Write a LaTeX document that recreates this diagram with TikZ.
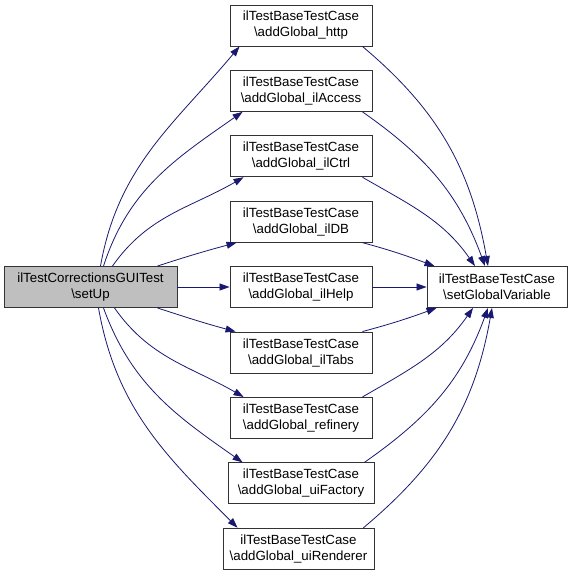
\documentclass[tikz,border=0pt]{standalone}
\usepackage{fontspec}
\setmainfont{Liberation Sans}
\usepackage{tikz}
\usetikzlibrary{arrows.meta, positioning}
\definecolor{callblue}{RGB}{25,25,112}
\definecolor{curgray}{RGB}{191,191,191}

\begin{document}
\begin{tikzpicture}[x=1pt, y=1pt,
    fn/.style={draw=black!80, line width=0.9pt, align=center, inner sep=0pt,
      minimum width=142pt, minimum height=41pt, font=\fontsize{13.3}{16}\selectfont},
    cur/.style={fn, fill=curgray, minimum width=173pt},
    call/.style={callblue, line width=0.8pt, -{Triangle[length=10pt,width=7pt]}}]
  \useasboundingbox (0,0) rectangle (573,-575);
  % Caller
  \node[cur] (setup) at (90.5,-287) {ilTestCorrectionsGUITest\\\textbackslash setUp};
  % Callees
  \node[fn] (http)     at (301,-25.5)  {ilTestBaseTestCase\\\textbackslash addGlobal\_http};
  \node[fn] (access)   at (301,-90.9)  {ilTestBaseTestCase\\\textbackslash addGlobal\_ilAccess};
  \node[fn] (ctrl)     at (301,-156.3) {ilTestBaseTestCase\\\textbackslash addGlobal\_ilCtrl};
  \node[fn] (db)       at (301,-221.7) {ilTestBaseTestCase\\\textbackslash addGlobal\_ilDB};
  \node[fn] (help)     at (301,-287)   {ilTestBaseTestCase\\\textbackslash addGlobal\_ilHelp};
  \node[fn] (tabs)     at (301,-352.5) {ilTestBaseTestCase\\\textbackslash addGlobal\_ilTabs};
  \node[fn] (refinery) at (301,-417.9) {ilTestBaseTestCase\\\textbackslash addGlobal\_refinery};
  \node[fn, minimum width=146pt] (factory)  at (301,-483.3) {ilTestBaseTestCase\\\textbackslash addGlobal\_uiFactory};
  \node[fn, minimum width=151pt] (renderer) at (298.5,-548.7) {ilTestBaseTestCase\\\textbackslash addGlobal\_uiRenderer};
  % Target
  \node[fn, minimum width=140pt] (setvar) at (497,-287) {ilTestBaseTestCase\\\textbackslash setGlobalVariable};
  % Calls from setUp
  \draw[call] ([xshift=10pt]setup.north) to[out=80,in=230] ([xshift=10pt]http.south west);
  \draw[call] ([xshift=13pt]setup.north) to[out=72,in=215] ([xshift=13pt]access.south west);
  \draw[call] ([xshift=22pt]setup.north) to[out=55,in=210] ([xshift=14pt]ctrl.south west);
  \draw[call] ([xshift=-20pt]setup.north east) to[out=18,in=195] ([xshift=7pt]db.south west);
  \draw[call] (setup.east) -- (help.west);
  \draw[call] ([xshift=-20pt]setup.south east) to[out=-18,in=165] ([xshift=6pt]tabs.north west);
  \draw[call] ([xshift=24pt]setup.south) to[out=-55,in=150] ([xshift=14pt]refinery.north west);
  \draw[call] ([xshift=13pt]setup.south) to[out=-70,in=145] ([xshift=15pt]factory.north west);
  \draw[call] ([xshift=8pt]setup.south) to[out=-80,in=135] ([xshift=15pt]renderer.north west);
  % Calls to setGlobalVariable
  \draw[call] ([xshift=-10pt]http.south east) to[out=-40,in=100] ([xshift=-9pt]setvar.north);
  \draw[call] ([xshift=-10pt]access.south east) to[out=-35,in=110] ([xshift=-12pt]setvar.north);
  \draw[call] ([xshift=-10pt]ctrl.south east) to[out=-30,in=125] ([xshift=-22pt]setvar.north);
  \draw[call] ([xshift=-10pt]db.south east) to[out=-15,in=160] ([xshift=8pt]setvar.north west);
  \draw[call] (help.east) -- (setvar.west);
  \draw[call] ([xshift=-10pt]tabs.north east) to[out=15,in=-160] ([xshift=10pt]setvar.south west);
  \draw[call] ([xshift=-10pt]refinery.north east) to[out=30,in=-125] ([xshift=-24pt]setvar.south);
  \draw[call] ([xshift=-10pt]factory.north east) to[out=35,in=-110] ([xshift=-9pt]setvar.south);
  \draw[call] ([xshift=-11pt]renderer.north east) to[out=40,in=-100] ([xshift=-5pt]setvar.south);
\end{tikzpicture}
\end{document}
